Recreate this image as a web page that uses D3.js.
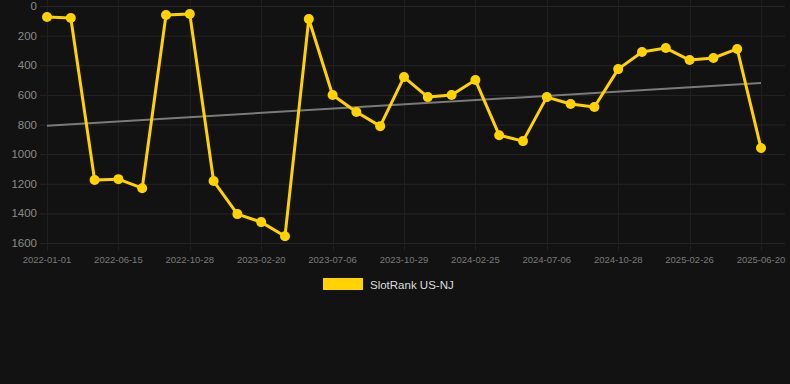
<!DOCTYPE html>
<html>
<head>
<meta charset="utf-8">
<script src="https://cdn.jsdelivr.net/npm/d3@7"></script>
<style>
  body { margin: 0; background: #121212; }
  svg { display: block; font-family: "Liberation Sans", Arial, sans-serif; }
</style>
</head>
<body>
<div id="chart"></div>
<script>
// dates of each sample (points are evenly spaced, one every ~6 weeks)
var dates = [
  "2022-01-01", "2022-02-25", "2022-04-20", "2022-06-15", "2022-07-30", "2022-09-13",
  "2022-10-28", "2022-12-05", "2023-01-12", "2023-02-20", "2023-04-05", "2023-05-20",
  "2023-07-06", "2023-08-13", "2023-09-21", "2023-10-29", "2023-12-08", "2024-01-17",
  "2024-02-25", "2024-04-08", "2024-05-22", "2024-07-06", "2024-08-13", "2024-09-20",
  "2024-10-28", "2024-12-07", "2025-01-17", "2025-02-26", "2025-04-05", "2025-05-13",
  "2025-06-20"
];
// SlotRank US-NJ rank per date
var ranks = [
  74, 81, 1175, 1169, 1230, 61, 54, 1182, 1405, 1459, 1554, 88,
  601, 716, 811, 480, 615, 601, 500, 872, 912, 615, 662, 682,
  426, 311, 284, 365, 351, 290, 959
];
var yTicks = [0, 200, 400, 600, 800, 1000, 1200, 1400, 1600];
var seriesName = "SlotRank US-NJ";

var w = 790, h = 384;
var margin = { top: 6, right: 29, bottom: 141, left: 47 };

var svg = d3.select("#chart").append("svg")
  .attr("width", w)
  .attr("height", h);

svg.append("rect").attr("width", w).attr("height", h).attr("fill", "#121212");

var x = d3.scalePoint()
  .domain(dates)
  .range([margin.left, w - margin.right]);

var y = d3.scaleLinear()
  .domain([0, 1600])
  .range([margin.top, h - margin.bottom]);

var labelDates = dates.filter(function(d, i) { return i % 3 === 0; });

// grid
svg.append("g")
  .selectAll("line.h")
  .data(yTicks)
  .join("line")
  .attr("x1", 40).attr("x2", w - 5)
  .attr("y1", function(d) { return y(d) + 0.5; })
  .attr("y2", function(d) { return y(d) + 0.5; })
  .attr("stroke", "#252525");

svg.append("g")
  .selectAll("line.v")
  .data(labelDates)
  .join("line")
  .attr("x1", function(d) { return Math.round(x(d)) + 0.5; })
  .attr("x2", function(d) { return Math.round(x(d)) + 0.5; })
  .attr("y1", 0).attr("y2", y(1600) + 8)
  .attr("stroke", "#1f1f1f");

// y labels
svg.append("g")
  .selectAll("text")
  .data(yTicks)
  .join("text")
  .attr("x", 37)
  .attr("y", function(d) { return y(d); })
  .attr("dy", "0.35em")
  .attr("text-anchor", "end")
  .attr("fill", "#8a8a8a")
  .attr("font-size", 11.5)
  .text(function(d) { return d; });

// x labels
svg.append("g")
  .selectAll("text")
  .data(labelDates)
  .join("text")
  .attr("x", function(d) { return x(d); })
  .attr("y", 263)
  .attr("text-anchor", "middle")
  .attr("fill", "#7a7a7a")
  .attr("font-size", 9.5)
  .text(function(d) { return d; });

// trend line (least squares on index)
var n = ranks.length;
var mx = d3.mean(d3.range(n)), my = d3.mean(ranks);
var slope = d3.sum(ranks, function(v, i) { return (i - mx) * (v - my); }) /
            d3.sum(d3.range(n), function(i) { return (i - mx) * (i - mx); });
var icpt = my - slope * mx;
svg.append("line")
  .attr("x1", x(dates[0])).attr("y1", y(icpt))
  .attr("x2", x(dates[n - 1])).attr("y2", y(icpt + slope * (n - 1)))
  .attr("stroke", "#7a7a7a")
  .attr("stroke-width", 2);

// series
var line = d3.line()
  .x(function(d, i) { return x(dates[i]); })
  .y(function(d) { return y(d); });

svg.append("path")
  .datum(ranks)
  .attr("d", line)
  .attr("fill", "none")
  .attr("stroke", "#ffd200")
  .attr("stroke-width", 3)
  .attr("stroke-linejoin", "round");

svg.append("g")
  .selectAll("circle")
  .data(ranks)
  .join("circle")
  .attr("cx", function(d, i) { return x(dates[i]); })
  .attr("cy", function(d) { return y(d); })
  .attr("r", 5)
  .attr("fill", "#ffd200");

// legend
svg.append("rect")
  .attr("x", 323).attr("y", 278)
  .attr("width", 40).attr("height", 12)
  .attr("fill", "#ffd200");
svg.append("text")
  .attr("x", 370).attr("y", 288.5)
  .attr("fill", "#dddddd")
  .attr("font-size", 11.5)
  .text(seriesName);
</script>
</body>
</html>
